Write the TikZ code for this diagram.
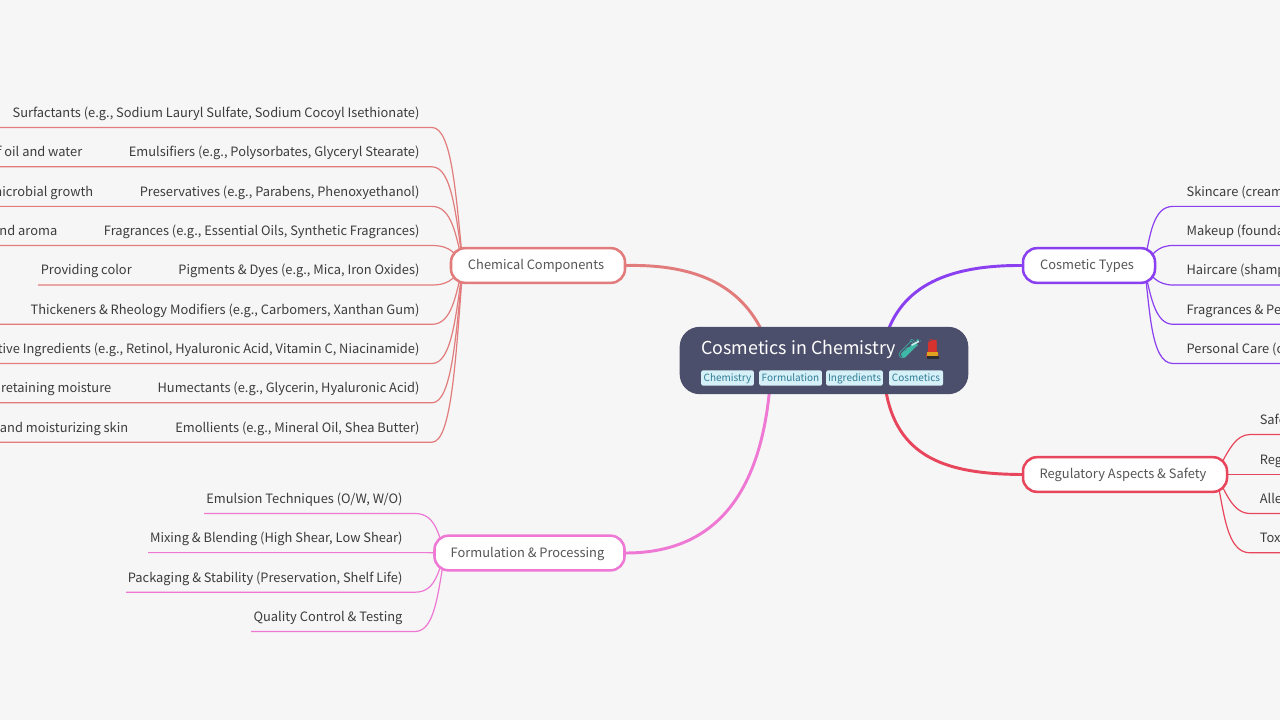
\documentclass[tikz,border=0pt]{standalone}
\usepackage{fontspec}
\setmainfont{Noto Sans CJK SC}
\newfontfamily\emojifont{Noto Emoji}
\usetikzlibrary{backgrounds,calc}
\definecolor{pagebg}{HTML}{F6F6F6}
\definecolor{ccc}{HTML}{E27C7C}
\definecolor{ctc}{HTML}{8A3FF0}
\definecolor{rac}{HTML}{E8465C}
\definecolor{fpc}{HTML}{EE78D4}
\definecolor{rootc}{HTML}{4C4F6B}
\definecolor{tagbg}{HTML}{D6F0F8}
\definecolor{tagfg}{HTML}{2F7C96}
\definecolor{leaffg}{HTML}{3C3C3C}
\definecolor{brfg}{HTML}{555555}
\definecolor{tube}{HTML}{3FB8A8}
\definecolor{lipr}{HTML}{D8322E}
\definecolor{lipg}{HTML}{E0A020}
\definecolor{lipd}{HTML}{2E2E32}
\tikzset{
  x=0.75pt,y=-0.75pt,
  leaf/.style={inner sep=0pt,text=leaffg,font=\fontsize{9.65pt}{12pt}\selectfont,text height=8pt,text depth=7.45pt},
  branch/.style={draw=#1,fill=white,line width=1.9pt,rounded corners=10.5pt,text=brfg,inner sep=0pt,font=\fontsize{9.65pt}{12pt}\selectfont,minimum height=26pt,text height=8.7pt,text depth=2.5pt},
  main/.style={draw=#1,line width=2.2pt,line cap=round},
  sub/.style={draw=#1,line width=0.9pt},
  tagbox/.style={fill=tagbg,text=tagfg,rounded corners=1.5pt,inner sep=0pt,text height=7pt,text depth=1.8pt,minimum height=11.5pt,font=\fontsize{7.5pt}{10pt}\selectfont,anchor=center},
  emoji/.style={anchor=center,inner sep=0pt,font=\emojifont\fontsize{14pt}{16pt}\selectfont},
}
\newcommand{\leafL}[7]{%
  \node[leaf,anchor=south east] (#1) at (#3+0.7,#4) {#6};
  \coordinate (#1f) at (#5,#4);
  \coordinate (#1m) at ($(#7)!0.5!(#3+13,#4)$);
  \begin{scope}[on background layer]
    \draw[sub=#2] (#7) .. controls ($(#7 |- #1m)+(-7,0)$) and (#3+33,#4) .. (#3+13,#4) -- (#1f);
  \end{scope}}
\begin{document}
\begin{tikzpicture}
\useasboundingbox (0,0) rectangle (1280,720);
\begin{scope}[on background layer]
\fill[pagebg] (0,0) rectangle (1280,720);
\end{scope}
\begin{scope}
\clip (0,0) rectangle (1280,720);
\node[fill=rootc,rounded corners=15pt,minimum width=216.5pt,minimum height=50.5pt,inner sep=0pt] (root) at (824,360.5) {};
\node[anchor=west,text=white,inner sep=0pt,font=\fontsize{13.4pt}{18pt}\selectfont] (title) at (701,349) {Cosmetics in Chemistry};
\node[emoji,text=tube] (emA) at (910,349.5) {🧪};
\node[emoji,text=lipr] (emB) at (932.5,349.5) {💄};
\draw[tube,line width=3.4pt,line cap=round] (904,355.5) -- (914.5,345);
\draw[white!75!tube,line width=1.2pt,line cap=round] (912,345) -- (918.5,341.5);
\fill[lipr] (928,352) -- (928,344) .. controls (929,341) and (933,339.5) .. (936.5,340) -- (936.5,352) -- cycle;
\fill[lipg] (927,352) rectangle (938,356);
\fill[lipd] (926.5,356) rectangle (938.5,359);
\node[tagbox,minimum width=39.5pt] (tagA) at (727.5,378) {Chemistry};
\node[tagbox,minimum width=47pt] (tagB) at (790.5,378) {Formulation};
\node[tagbox,minimum width=42.5pt] (tagC) at (854.5,378) {Ingredients};
\node[tagbox,minimum width=40.5pt] (tagD) at (916,378) {Cosmetics};
\node[branch=ccc,minimum width=130.5pt] (cc) at (538,265.5) {Chemical Components\kern3pt};
\node[branch=ctc,minimum width=99pt] (ct) at (1089,265.5) {Cosmetic Types\kern3pt};
\node[branch=rac,minimum width=153pt] (ra) at (1125,474.5) {Regulatory Aspects \& Safety\kern3pt};
\node[branch=fpc,minimum width=142.5pt] (fp) at (529.5,553) {Formulation \& Processing\kern3pt};
\coordinate (ccH) at (463,265);
\coordinate (fpH) at (445,553);
\coordinate (rA) at (766,340);
\coordinate (rB) at (885,340);
\coordinate (rC) at (770,385);
\coordinate (rD) at (885,385);
\leafL{a}{ccc}{419}{127.5}{0}{Surfactants (e.g., Sodium Lauryl Sulfate, Sodium Cocoyl Isethionate)}{ccH}
\leafL{b}{ccc}{419}{166.8}{0}{Emulsifiers (e.g., Polysorbates, Glyceryl Stearate)}{ccH}
\leafL{c}{ccc}{419}{206.4}{0}{Preservatives (e.g., Parabens, Phenoxyethanol)}{ccH}
\leafL{d}{ccc}{419}{245.5}{0}{Fragrances (e.g., Essential Oils, Synthetic Fragrances)}{ccH}
\leafL{e}{ccc}{419}{285}{38}{Pigments \& Dyes (e.g., Mica, Iron Oxides)}{ccH}
\leafL{f}{ccc}{419}{324.3}{0}{Thickeners \& Rheology Modifiers (e.g., Carbomers, Xanthan Gum)}{ccH}
\leafL{g}{ccc}{419}{363.5}{0}{tive Ingredients (e.g., Retinol, Hyaluronic Acid, Vitamin C, Niacinamide)}{ccH}
\leafL{h}{ccc}{419}{402.8}{0}{Humectants (e.g., Glycerin, Hyaluronic Acid)}{ccH}
\leafL{i}{ccc}{419}{442.2}{0}{Emollients (e.g., Mineral Oil, Shea Butter)}{ccH}
\node[leaf,anchor=south east] (bb) at (82.5,166.8) {f oil and water};
\node[leaf,anchor=south east] (cb) at (93.5,206.4) {microbial growth};
\node[leaf,anchor=south east] (db) at (57.5,245.5) {nd aroma};
\node[leaf,anchor=south east] (eb) at (132,285) {Providing color};
\node[leaf,anchor=south east] (hb) at (111.5,402.8) {retaining moisture};
\node[leaf,anchor=south east] (ib) at (128.5,442.2) {and moisturizing skin};
\leafL{p}{fpc}{402}{513.5}{204}{Emulsion Techniques (O/W, W/O)}{fpH}
\leafL{q}{fpc}{402}{552.6}{148}{Mixing \& Blending (High Shear, Low Shear)}{fpH}
\leafL{r}{fpc}{402}{592.2}{126}{Packaging \& Stability (Preservation, Shelf Life)}{fpH}
\leafL{s}{fpc}{402}{631.5}{251}{Quality Control \& Testing}{fpH}
\node[leaf,anchor=south west] (ta) at (1186.3,206.4) {Skincare (cream};
\node[leaf,anchor=south west] (tb) at (1186.3,245.5) {Makeup (founda};
\node[leaf,anchor=south west] (tc) at (1186.3,285) {Haircare (shamp};
\node[leaf,anchor=south west] (td) at (1186.3,324.3) {Fragrances \& Pe};
\node[leaf,anchor=south west] (te) at (1186.3,363.5) {Personal Care (c};
\node[leaf,anchor=south west] (ua) at (1259.5,434.5) {Safe};
\node[leaf,anchor=south west] (ub) at (1259.5,474.4) {Reg};
\node[leaf,anchor=south west] (uc) at (1259.5,513.5) {Alle};
\node[leaf,anchor=south west] (ud) at (1259.5,552.8) {Tox};
\end{scope}
\coordinate (ctH) at (1144,265);
\coordinate (raH) at (1216,474.4);
\coordinate (tE) at (1280,206.4);
\coordinate (tF) at (1280,245.5);
\coordinate (tG) at (1280,285);
\coordinate (tH) at (1280,324.3);
\coordinate (tI) at (1280,363.5);
\coordinate (uE) at (1280,434.5);
\coordinate (uF) at (1280,474.4);
\coordinate (uG) at (1280,513.5);
\coordinate (uH) at (1280,552.8);
\begin{scope}[on background layer]
\draw[sub=ctc] (ctH) .. controls (1150,235) and (1153,206.4) .. (1173,206.4) -- (tE);
\draw[sub=ctc] (ctH) .. controls (1152,255) and (1157,245.5) .. (1173,245.5) -- (tF);
\draw[sub=ctc] (ctH) .. controls (1150,275) and (1157,285) .. (1173,285) -- (tG);
\draw[sub=ctc] (ctH) .. controls (1150,295) and (1155,324.3) .. (1173,324.3) -- (tH);
\draw[sub=ctc] (ctH) .. controls (1150,305) and (1150,363.5) .. (1173,363.5) -- (tI);
\draw[sub=rac] (raH) .. controls (1228,450) and (1236,434.5) .. (1250,434.5) -- (uE);
\draw[sub=rac] (raH) -- (uF);
\draw[sub=rac] (raH) .. controls (1225,490) and (1232,513.5) .. (1250,513.5) -- (uG);
\draw[sub=rac] (raH) .. controls (1224,510) and (1226,552.8) .. (1250,552.8) -- (uH);
\draw[main=ccc] (cc.east) .. controls (700,264) and (745,288) .. (rA);
\draw[main=ctc] (ct.west) .. controls (950,265) and (900,285) .. (rB);
\draw[main=fpc] (fp.east) .. controls (725,553) and (762,480) .. (rC);
\draw[main=rac] (ra.west) .. controls (950,474) and (895,460) .. (rD);
\end{scope}
\end{tikzpicture}
\end{document}
